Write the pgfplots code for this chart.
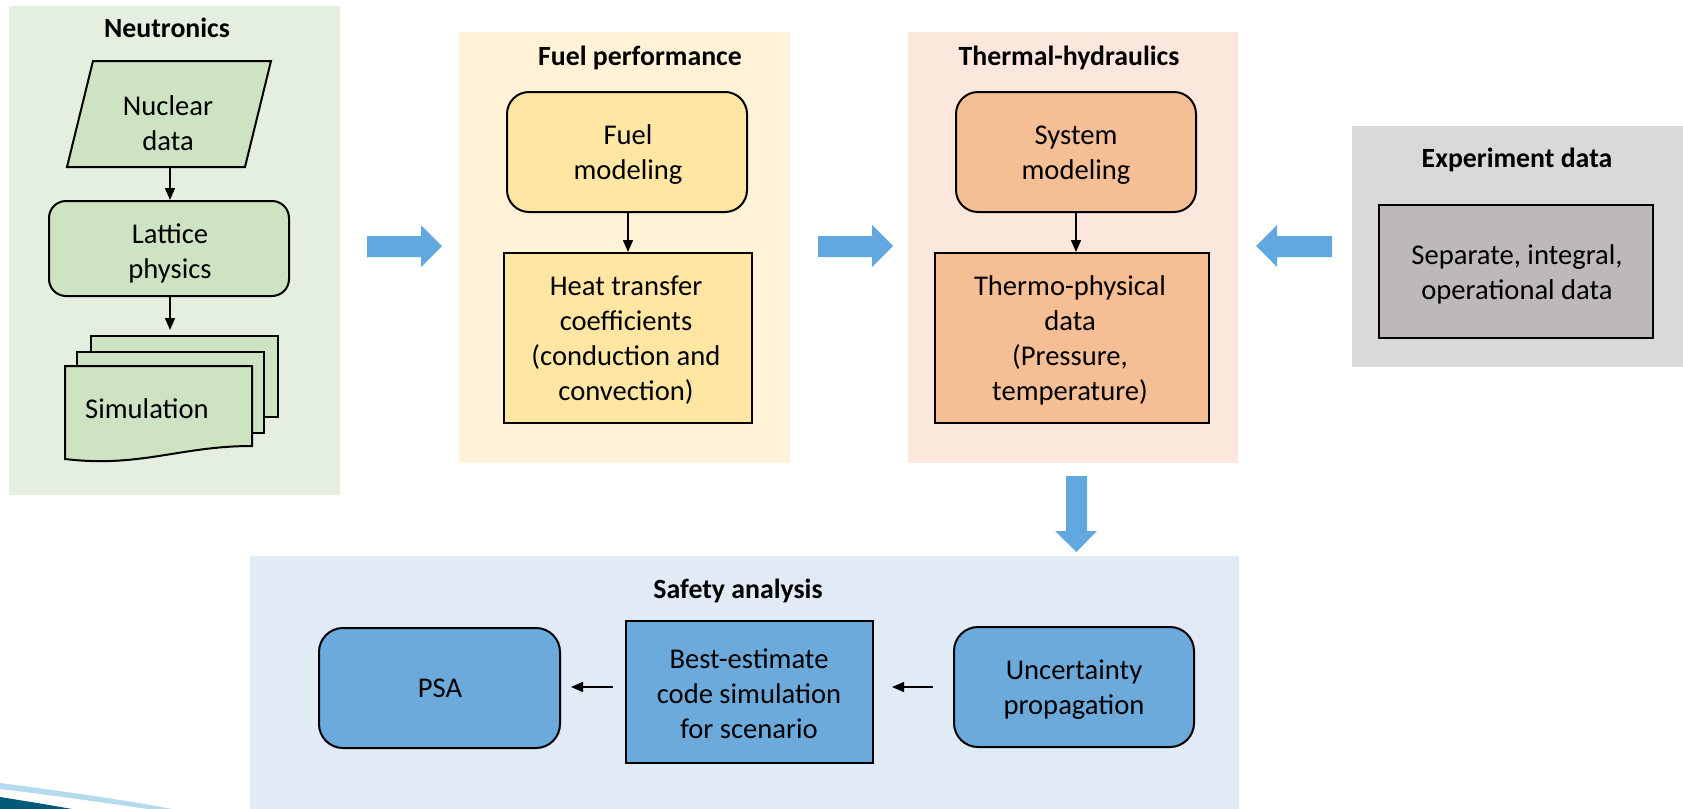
\documentclass[border=0pt]{standalone}
\usepackage{pgfplots}
\pgfplotsset{compat=1.18}
\usepackage{fontspec}
\setmainfont{Carlito}
\usetikzlibrary{arrows.meta}
\definecolor{neuBg}{HTML}{E5EFDF}
\definecolor{neuBox}{HTML}{CDE3C1}
\definecolor{fuelBg}{HTML}{FFF2D6}
\definecolor{fuelBox}{HTML}{FFE7A3}
\definecolor{thBg}{HTML}{FBE7DC}
\definecolor{thBox}{HTML}{F5BE95}
\definecolor{exBg}{HTML}{D9D9D9}
\definecolor{exBox}{HTML}{BDB9B8}
\definecolor{saBg}{HTML}{E1EBF6}
\definecolor{saBox}{HTML}{6CAADB}
\definecolor{bigArrow}{HTML}{62A8E0}
\definecolor{teal}{HTML}{005A78}
\definecolor{lightband}{HTML}{B4DAEE}
\newcommand\bodyfont{\fontsize{14.3}{17.5}\selectfont}
\newcommand\titlefont{\fontsize{13.9}{16}\selectfont\bfseries}
\begin{document}
\begin{tikzpicture}
\begin{axis}[scale only axis, width=841.5pt, height=404.5pt,
  xmin=0, xmax=1683, ymin=0, ymax=809, y dir=reverse,
  hide axis, clip=false]
\path (0,0) rectangle (1683,809);
% panels
\fill[neuBg] (9,6) rectangle (340,495);
\fill[fuelBg] (459,32) rectangle (790,463);
\fill[thBg] (908,32) rectangle (1238,463);
\fill[exBg] (1352,126) rectangle (1683,367);
\fill[saBg] (250,556) rectangle (1239,809);
% swoosh
\fill[lightband] (0,783) .. controls (60,791) and (120,799) .. (172,809) -- (148,809) .. controls (100,802) and (50,795) .. (0,789) -- cycle;
\fill[teal] (0,797) .. controls (25,801) and (50,805) .. (72,809) -- (0,809) -- cycle;
% titles
\node[font=\titlefont] at (167,28) {Neutronics};
\node[font=\titlefont] at (640,58) {Fuel performance};
\node[font=\titlefont] at (1069,58) {Thermal-hydraulics};
\node[font=\titlefont] at (1517,160) {Experiment data};
\node[font=\titlefont] at (738,591) {Safety analysis};
% Neutronics
\filldraw[fill=neuBox, line width=1pt] (93,61) -- (271,61) -- (245,167) -- (67,167) -- cycle;
\node[font=\bodyfont, align=center] at (168,123) {Nuclear\\data};
\filldraw[fill=neuBox, line width=1pt, rounded corners=8.5pt] (49,201) rectangle (289,296);
\node[font=\bodyfont, align=center] at (170,253) {Lattice\\physics};
\filldraw[fill=neuBox, line width=1pt] (91,336) rectangle (278,417);
\filldraw[fill=neuBox, line width=1pt] (77,352) rectangle (264,433);
\filldraw[fill=neuBox, line width=1pt] (65,366) -- (252,366) -- (252,446) .. controls (180,446) and (140,468) .. (65,459) -- cycle;
\node[font=\bodyfont] at (147,409) {Simulation};
\draw[line width=0.75pt, -{Triangle[length=6pt,width=5pt]}] (170,167) -- (170,200);
\draw[line width=0.75pt, -{Triangle[length=6pt,width=5pt]}] (170,296) -- (170,330);
% Fuel performance
\filldraw[fill=fuelBox, line width=1pt, rounded corners=11pt] (507,92) rectangle (747,212);
\node[font=\bodyfont, align=center] at (628,155) {Fuel\\modeling};
\filldraw[fill=fuelBox, line width=1pt] (504,253) rectangle (752,423);
\node[font=\bodyfont, align=center] at (626,340) {Heat transfer\\coefficients\\(conduction and\\convection)};
\draw[line width=0.75pt, -{Triangle[length=6pt,width=5pt]}] (628,212) -- (628,252);
% Thermal-hydraulics
\filldraw[fill=thBox, line width=1pt, rounded corners=11pt] (956,92) rectangle (1196,212);
\node[font=\bodyfont, align=center] at (1076,155) {System\\modeling};
\filldraw[fill=thBox, line width=1pt] (935,253) rectangle (1209,423);
\node[font=\bodyfont, align=center] at (1070,340) {Thermo-physical\\data\\(Pressure,\\temperature)};
\draw[line width=0.75pt, -{Triangle[length=6pt,width=5pt]}] (1076,212) -- (1076,252);
% Experiment
\filldraw[fill=exBox, line width=1pt] (1379,205) rectangle (1653,338);
\node[font=\bodyfont, align=center] at (1517,274) {Separate, integral,\\operational data};
% Safety analysis
\filldraw[fill=saBox, line width=1pt, rounded corners=12pt] (319,628) rectangle (560,748);
\node[font=\bodyfont] at (440,688) {PSA};
\filldraw[fill=saBox, line width=1pt] (626,621) rectangle (873,763);
\node[font=\bodyfont, align=center] at (749,694) {Best-estimate\\code simulation\\for scenario};
\filldraw[fill=saBox, line width=1pt, rounded corners=12pt] (954,627) rectangle (1194,747);
\node[font=\bodyfont, align=center] at (1074,690) {Uncertainty\\propagation};
\draw[line width=0.75pt, -{Triangle[length=6pt,width=5pt]}] (613,687) -- (571,687);
\draw[line width=0.75pt, -{Triangle[length=6pt,width=5pt]}] (933,687) -- (892,687);
% big blue arrows
\fill[bigArrow] (367,236) -- (421,236) -- (421,225) -- (442,246) -- (421,267) -- (421,257) -- (367,257) -- cycle;
\fill[bigArrow] (818,236) -- (872,236) -- (872,225) -- (893,246) -- (872,267) -- (872,257) -- (818,257) -- cycle;
\fill[bigArrow] (1332,236) -- (1277,236) -- (1277,225) -- (1256,246) -- (1277,267) -- (1277,257) -- (1332,257) -- cycle;
\fill[bigArrow] (1066,476) -- (1087,476) -- (1087,531) -- (1097,531) -- (1076.5,552) -- (1055,531) -- (1066,531) -- cycle;
\end{axis}
\end{tikzpicture}
\end{document}
